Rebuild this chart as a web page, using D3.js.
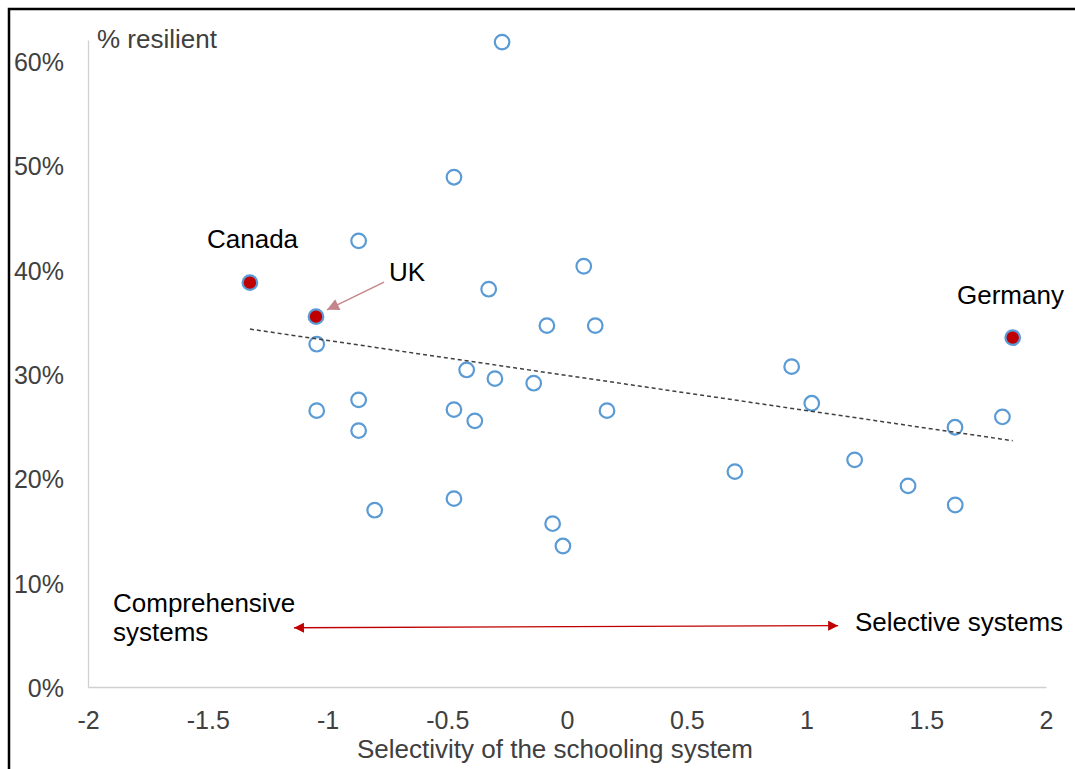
<!DOCTYPE html>
<html>
<head>
<meta charset="utf-8">
<script src="https://cdn.jsdelivr.net/npm/d3@7"></script>
<style>
  html, body { margin: 0; padding: 0; background: #fff; }
  svg { display: block; }
  text { font-family: "Liberation Sans", Arial, sans-serif; }
</style>
</head>
<body>
<svg id="chart" width="1075" height="769"></svg>
<script>
// ---- Data ----
const selectivity = [-0.271, -0.472, -0.870, 0.070, -0.327, -0.084, 0.118, -1.045, -0.419, -0.301,
  -0.139, -0.870, -1.045, -0.472, -0.385, 0.167, -0.870, -0.472, -0.803, -0.060,
  -0.017, 0.938, 1.022, 1.620, 1.818, 0.701, 1.201, 1.424, 1.621];
const resilient = [0.618, 0.4885, 0.4275, 0.4032, 0.3812, 0.3463, 0.3463, 0.3285, 0.3038, 0.2955,
  0.2911, 0.2751, 0.2648, 0.2658, 0.2550, 0.2648, 0.2457, 0.1805, 0.1694, 0.1565,
  0.1351, 0.3070, 0.2719, 0.2489, 0.2588, 0.2064, 0.2176, 0.1927, 0.1744];

const highlightCountries = ["Canada", "UK", "Germany"];
const highlightSelectivity = [-1.324, -1.048, 1.861];
const highlightResilient = [0.3875, 0.3549, 0.3348];

// linear trendline (endpoints)
const trendSelectivity = [-1.324, 1.861];
const trendResilient = [0.3430, 0.2360];

const xTickValues = [-2, -1.5, -1, -0.5, 0, 0.5, 1, 1.5, 2];
const xTickLabels = ["-2", "-1.5", "-1", "-0.5", "0", "0.5", "1", "1.5", "2"];
const yTickValues = [0, 0.1, 0.2, 0.3, 0.4, 0.5, 0.6];
const yTickLabels = ["0%", "10%", "20%", "30%", "40%", "50%", "60%"];

const xTitle = "Selectivity of the schooling system";
const yTitle = "% resilient";

// ---- Setup ----
const svg = d3.select("#chart");
const x = d3.scaleLinear().domain([-2, 2]).range([88, 1046]);
const y = d3.scaleLinear().domain([0, 0.62]).range([687, 40]);

// frame (cut off at right and bottom)
svg.append("rect").attr("x", 9).attr("y", 9).attr("width", 1200).attr("height", 900)
  .attr("fill", "none").attr("stroke", "#000").attr("stroke-width", 2.5);

// axes
const xAxis = d3.axisBottom(x).tickValues(xTickValues)
  .tickFormat((d, i) => xTickLabels[i]).tickSize(0).tickPadding(24);
const gx = svg.append("g").attr("transform", `translate(0,${y(0)})`).call(xAxis);
gx.select(".domain").attr("stroke", "#d0d0d0").attr("stroke-width", 1.3);
gx.selectAll("text").attr("font-size", 25).attr("fill", "#404040")
  .attr("font-family", "Liberation Sans, Arial, sans-serif");

const yAxis = d3.axisLeft(y).tickValues(yTickValues)
  .tickFormat((d, i) => yTickLabels[i]).tickSize(0).tickPadding(24);
const gy = svg.append("g").attr("transform", `translate(${x(-2)},0)`).call(yAxis);
gy.select(".domain").attr("stroke", "#d0d0d0").attr("stroke-width", 1.3);
gy.selectAll("text").attr("font-size", 25).attr("fill", "#404040")
  .attr("font-family", "Liberation Sans, Arial, sans-serif").attr("dy", "0.38em");

// titles
svg.append("text").attr("x", 555).attr("y", 758).attr("text-anchor", "middle")
  .attr("font-size", 26).attr("fill", "#404040").text(xTitle);
svg.append("text").attr("x", 97).attr("y", 48)
  .attr("font-size", 26).attr("fill", "#404040").text(yTitle);

// points
svg.append("g").selectAll("circle").data(selectivity).join("circle")
  .attr("cx", d => x(d)).attr("cy", (d, i) => y(resilient[i])).attr("r", 7.3)
  .attr("fill", "#fff").attr("stroke", "#5b9bd5").attr("stroke-width", 2.2);

svg.append("g").selectAll("circle").data(highlightSelectivity).join("circle")
  .attr("cx", d => x(d)).attr("cy", (d, i) => y(highlightResilient[i])).attr("r", 7.3)
  .attr("fill", "#c00000").attr("stroke", "#5b9bd5").attr("stroke-width", 2.2);

// trendline
const line = d3.line().x(d => x(d)).y((d, i) => y(trendResilient[i]));
svg.append("path").datum(trendSelectivity).attr("d", line)
  .attr("fill", "none").attr("stroke", "#404040").attr("stroke-width", 1.5)
  .attr("stroke-dasharray", "4,3");

// markers
const defs = svg.append("defs");
defs.append("marker").attr("id", "redHead").attr("viewBox", "0 0 10 10")
  .attr("refX", 10).attr("refY", 5).attr("markerWidth", 12).attr("markerHeight", 10)
  .attr("markerUnits", "userSpaceOnUse").attr("orient", "auto-start-reverse")
  .append("path").attr("d", "M0,0 L10,5 L0,10 Z").attr("fill", "#c00000");
defs.append("marker").attr("id", "pinkHead").attr("viewBox", "0 0 10 10")
  .attr("refX", 10).attr("refY", 5).attr("markerWidth", 15).attr("markerHeight", 12)
  .attr("markerUnits", "userSpaceOnUse").attr("orient", "auto")
  .append("path").attr("d", "M0,0 L10,5 L0,10 Z").attr("fill", "#c4868a");

// annotations
const ann = svg.append("g").attr("font-size", 26).attr("fill", "#000");
ann.append("text").attr("x", 207).attr("y", 248).text(highlightCountries[0]);
ann.append("text").attr("x", 389).attr("y", 281).text(highlightCountries[1]);
ann.append("text").attr("x", 957).attr("y", 304).text(highlightCountries[2]);
ann.append("text").attr("x", 113).attr("y", 612).text("Comprehensive");
ann.append("text").attr("x", 113).attr("y", 641).text("systems");
ann.append("text").attr("x", 855).attr("y", 631).text("Selective systems");

// UK arrow
svg.append("line").attr("x1", x(-0.764)).attr("y1", y(0.388))
  .attr("x2", x(-1.002)).attr("y2", y(0.3614))
  .attr("stroke", "#c4868a").attr("stroke-width", 1.5).attr("marker-end", "url(#pinkHead)");

// double-headed red arrow
svg.append("line").attr("x1", x(-1.140)).attr("y1", y(0.0568))
  .attr("x2", x(1.132)).attr("y2", y(0.0588))
  .attr("stroke", "#c00000").attr("stroke-width", 1.3)
  .attr("marker-start", "url(#redHead)").attr("marker-end", "url(#redHead)");
</script>
</body>
</html>
